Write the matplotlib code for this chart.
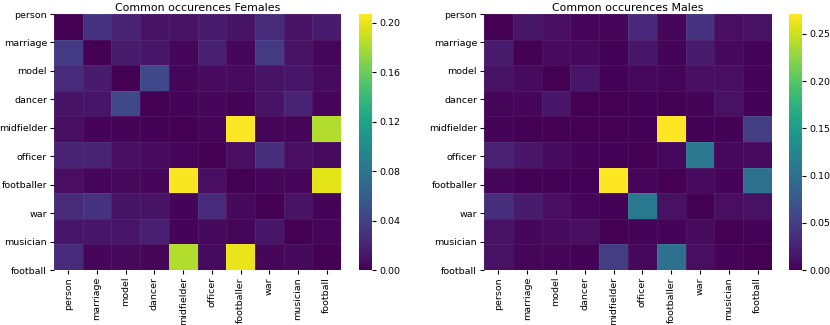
import numpy as np
import matplotlib
matplotlib.use("Agg")
import matplotlib.pyplot as plt

WORDS = ["person", "marriage", "model", "dancer", "midfielder",
         "officer", "footballer", "war", "musician", "football"]

# 읽어낸 값 (행 = WORDS 순서)
females = [
    [0.000, 0.030, 0.020, 0.010, 0.010, 0.015, 0.010, 0.025, 0.010, 0.015],
    [0.035, 0.000, 0.015, 0.012, 0.003, 0.018, 0.004, 0.035, 0.010, 0.003],
    [0.025, 0.015, 0.000, 0.045, 0.003, 0.006, 0.006, 0.010, 0.012, 0.006],
    [0.010, 0.012, 0.045, 0.000, 0.002, 0.004, 0.002, 0.010, 0.020, 0.003],
    [0.008, 0.002, 0.002, 0.001, 0.000, 0.003, 0.207, 0.003, 0.003, 0.183],
    [0.020, 0.020, 0.008, 0.006, 0.003, 0.000, 0.008, 0.028, 0.008, 0.006],
    [0.008, 0.003, 0.005, 0.004, 0.205, 0.008, 0.000, 0.004, 0.004, 0.198],
    [0.025, 0.030, 0.010, 0.010, 0.002, 0.025, 0.005, 0.000, 0.010, 0.002],
    [0.012, 0.012, 0.012, 0.018, 0.002, 0.005, 0.003, 0.012, 0.000, 0.003],
    [0.025, 0.004, 0.005, 0.004, 0.183, 0.006, 0.200, 0.004, 0.005, 0.000],
]
males = [
    [0.000, 0.015, 0.010, 0.005, 0.005, 0.030, 0.005, 0.040, 0.010, 0.012],
    [0.020, 0.000, 0.008, 0.006, 0.002, 0.015, 0.003, 0.020, 0.006, 0.003],
    [0.012, 0.008, 0.000, 0.015, 0.002, 0.006, 0.004, 0.010, 0.010, 0.003],
    [0.004, 0.005, 0.015, 0.000, 0.001, 0.002, 0.002, 0.003, 0.012, 0.002],
    [0.003, 0.001, 0.001, 0.001, 0.000, 0.002, 0.271, 0.002, 0.002, 0.048],
    [0.025, 0.015, 0.008, 0.003, 0.002, 0.000, 0.006, 0.108, 0.006, 0.008],
    [0.004, 0.002, 0.002, 0.002, 0.270, 0.004, 0.000, 0.008, 0.003, 0.100],
    [0.035, 0.020, 0.010, 0.004, 0.002, 0.108, 0.012, 0.000, 0.010, 0.012],
    [0.012, 0.005, 0.008, 0.010, 0.001, 0.003, 0.003, 0.008, 0.000, 0.003],
    [0.012, 0.004, 0.004, 0.002, 0.048, 0.006, 0.100, 0.010, 0.003, 0.000],
]
female_cticks = [0.00, 0.04, 0.08, 0.12, 0.16, 0.20]
male_cticks = [0.00, 0.05, 0.10, 0.15, 0.20, 0.25]

W, H = 830, 325
FS = 6.8
fig = plt.figure(figsize=(W / 100, H / 100), dpi=100)


def panel(rect, crect, data, title, cticks):
    ax = fig.add_axes(rect)
    cax = fig.add_axes(crect)
    m = np.asarray(data)
    n = len(WORDS)
    mesh = ax.pcolormesh(m, cmap="viridis", vmin=0, vmax=m.max(),
                         edgecolors=(1, 1, 1, 0.06), linewidth=0.4)
    ax.set_xlim(0, n)
    ax.set_ylim(n, 0)
    ax.set_xticks(np.arange(n) + 0.5)
    ax.set_xticklabels(WORDS, rotation=90, fontsize=FS)
    # y 라벨은 원본처럼 위~아래 가장자리에 균등 배치
    ax.set_yticks(np.linspace(0, n, n))
    ax.set_yticklabels(WORDS, fontsize=FS)
    ax.tick_params(length=3, width=0.8, pad=2)
    for s in ax.spines.values():
        s.set_visible(False)
    ax.set_title(title, fontsize=7.9, pad=2)
    cb = fig.colorbar(mesh, cax=cax, ticks=cticks)
    cb.outline.set_visible(False)
    cb.ax.set_yticklabels([f"{t:.2f}" for t in cticks])
    cb.ax.tick_params(labelsize=FS, length=3, width=0.8, pad=2)


bottom = 55 / H
height = 256 / H
panel([54 / W, bottom, 287 / W, height], [359 / W, bottom, 13 / W, height],
      females, "Common occurences Females", female_cticks)
panel([484 / W, bottom, 288 / W, height], [789 / W, bottom, 13 / W, height],
      males, "Common occurences Males", male_cticks)

fig.savefig("out.png", dpi=100)
